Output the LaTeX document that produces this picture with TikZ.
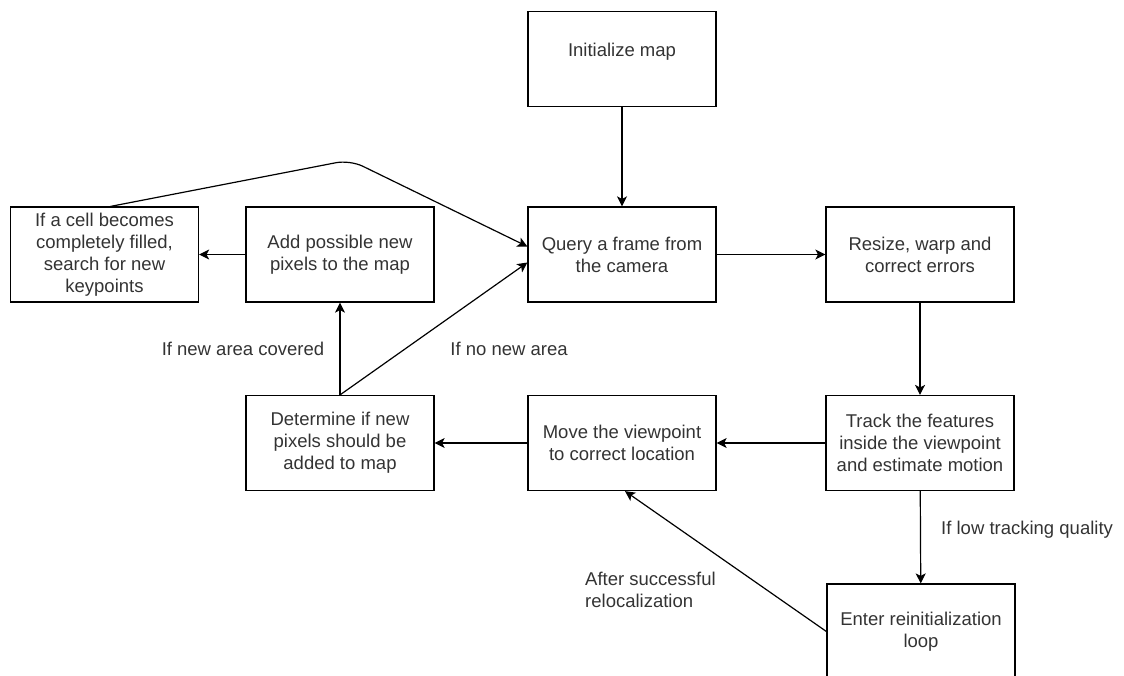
\documentclass[tikz,border=0pt]{standalone}
\usepackage{fontspec}
\setmainfont{Liberation Sans}
\usetikzlibrary{arrows.meta}
\tikzset{
  stepbox/.style={draw,line width=1.2pt,minimum width=188pt,minimum height=95pt,
    align=center,inner sep=2pt,text=black!80},
  flow/.style={line width=1.2pt,-{Stealth[length=10pt,width=10pt,inset=2.5pt]}},
  lbl/.style={text=black!80,inner sep=0pt}
}
\begin{document}
\begin{tikzpicture}[x=1pt,y=-1pt,font=\fontsize{18.5}{22}\selectfont]
                \useasboundingbox (0,0) rectangle (1124,675);
                %% boxes
                \node[stepbox] (init) at (622,59) {Initialize map\\[-4pt]\mbox{}};
                \node[stepbox] (query) at (622,254.5) {Query a frame from\\the camera};
                \node[stepbox] (resize) at (920,254.5) {Resize, warp and\\correct errors};
                \node[stepbox] (add) at (340,254.5) {Add possible new\\pixels to the map};
                \node[stepbox] (cell) at (104.5,254.5) {If a cell becomes\\completely filled,\\search for new\\keypoints};
                \node[stepbox] (determine) at (340,443) {Determine if new\\pixels should be\\added to map};
                \node[stepbox] (move) at (622,443) {Move the viewpoint\\to correct location};
                \node[stepbox] (track) at (920,443) {Track the features\\inside the viewpoint\\and estimate motion};
                \node[stepbox] (reinit) at (921,631.5) {Enter reinitialization\\loop};
                %% labels
                \node[lbl] (covered) at (243,349) {If new area covered};
                \node[lbl] (nonew) at (509,349) {If no new area};
                \node[lbl,anchor=west] (lowq) at (941,530) {If low tracking quality};
                \node[lbl,anchor=north west,align=left] (reloc) at (585,572) {After successful\\relocalization};
                %% main loop
                \draw[flow] (init) -- (query);
                \draw[flow] (query) -- (resize);
                \draw[flow] (resize) -- (track);
                \draw[flow] (track) -- (move);
                \draw[flow] (move) -- (determine);
                \draw[flow] (determine) -- (add);
                \draw[flow] (determine.north) -- ([yshift=-8pt]query.west);
                \draw[flow] (add) -- (cell);
                %% back to the camera
                \coordinate (peak) at (350,160);
                \draw[flow,rounded corners=14pt] ([xshift=6pt]cell.north) -- (peak) -- ([yshift=8pt]query.west);
                %% tracking lost
                \draw[flow] (track) -- (reinit);
                \draw[flow] (reinit.west) -- ([xshift=3pt]move.south);
            \end{tikzpicture}
\end{document}
